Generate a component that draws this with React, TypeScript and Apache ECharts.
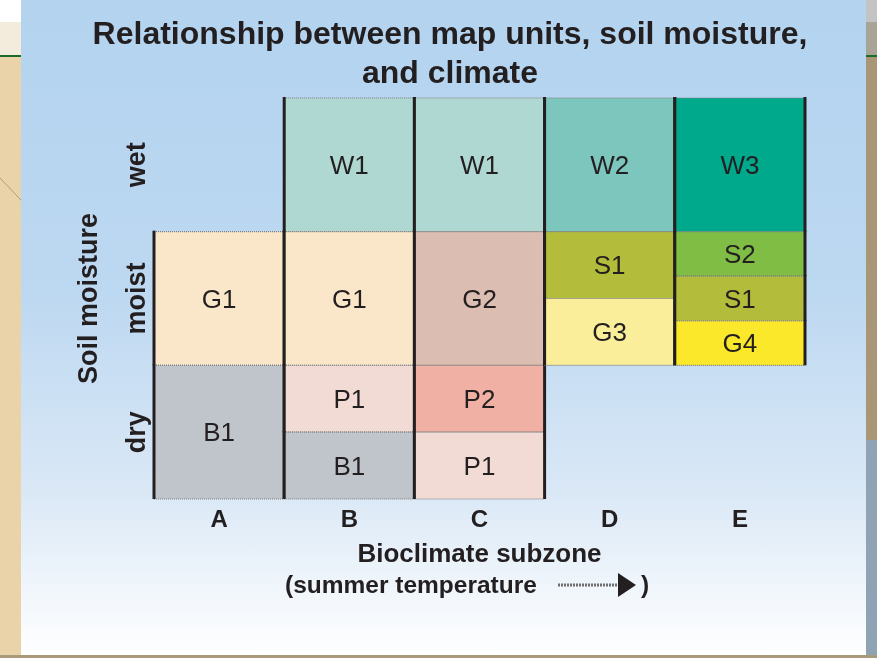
import React, { useEffect, useRef } from "react";
import * as echarts from "echarts";

// Bioclimate subzones (x categories) and soil moisture classes (y categories, bottom to top)
const zones = ["A", "B", "C", "D", "E"];
const moistureClasses = ["dry", "moist", "wet"];

// Map units: zone index, lower and upper bound in moisture-class units (dry 0-1, moist 1-2, wet 2-3)
const unitCodes = ["G1", "B1", "W1", "G1", "P1", "B1", "W1", "G2", "P2", "P1", "W2", "S1", "G3", "W3", "S2", "S1", "G4"];
const unitZone = [0, 0, 1, 1, 1, 1, 2, 2, 2, 2, 3, 3, 3, 4, 4, 4, 4];
const unitFrom = [1, 0, 2, 1, 0.5, 0, 2, 1, 0.5, 0, 2, 1.5, 1, 2, 1.667, 1.333, 1];
const unitTo = [2, 1, 3, 2, 1, 0.5, 3, 2, 1, 0.5, 3, 2, 1.5, 3, 2, 1.667, 1.333];

const unitColors: Record<string, string> = {
  W1: "#afd8d2",
  W2: "#7dc6bd",
  W3: "#00a88c",
  G1: "#fae6c8",
  G2: "#dbbdb1",
  G3: "#fbee9a",
  G4: "#fce82a",
  S1: "#b3bd3b",
  S2: "#7fbd45",
  P1: "#f2dbd4",
  P2: "#f0b0a3",
  B1: "#c0c4cb",
};

const TEXT = "#231f20";
const FONT = "Liberation Sans";

export default function App() {
  const ref = useRef<HTMLDivElement>(null);

  useEffect(() => {
    if (!ref.current) return;
    const chart = echarts.init(ref.current, null, { renderer: "svg" });

    const data = unitCodes.map((c, i) => [unitZone[i], unitFrom[i], unitTo[i]]);

    chart.setOption({
      animation: false,
      backgroundColor: "transparent",
      graphic: [
        // background panel and side strips
        { type: "rect", z: -10, shape: { x: 0, y: 0, width: 21, height: 22 }, style: { fill: "#ffffff" } },
        { type: "rect", z: -10, shape: { x: 0, y: 22, width: 21, height: 33 }, style: { fill: "#f3ebdc" } },
        { type: "rect", z: -10, shape: { x: 0, y: 55, width: 21, height: 2 }, style: { fill: "#1a6b2a" } },
        { type: "rect", z: -10, shape: { x: 0, y: 57, width: 21, height: 601 }, style: { fill: "#ebd3a9" } },
        { type: "line", z: -9, shape: { x1: 0, y1: 178, x2: 21, y2: 200 }, style: { stroke: "#b09a7a", lineWidth: 1 } },
        { type: "rect", z: -10, shape: { x: 866, y: 0, width: 11, height: 22 }, style: { fill: "#c3c3c3" } },
        { type: "rect", z: -10, shape: { x: 866, y: 22, width: 11, height: 33 }, style: { fill: "#a9a498" } },
        { type: "rect", z: -10, shape: { x: 866, y: 55, width: 11, height: 2 }, style: { fill: "#1a6b2a" } },
        { type: "rect", z: -10, shape: { x: 866, y: 57, width: 11, height: 601 }, style: { fill: "#a89677" } },
        { type: "rect", z: -10, shape: { x: 866, y: 440, width: 11, height: 218 }, style: { fill: "#8fa3b5" } },
        { type: "rect", z: -10, shape: { x: 0, y: 655, width: 877, height: 3 }, style: { fill: "#a89a7a" } },
        {
          type: "rect",
          z: -10,
          shape: { x: 21, y: 0, width: 845, height: 655 },
          style: {
            fill: new echarts.graphic.LinearGradient(0, 0, 0, 1, [
              { offset: 0, color: "#b3d3ef" },
              { offset: 0.45, color: "#bdd8f1" },
              { offset: 0.75, color: "#dae8f6" },
              { offset: 1, color: "#ffffff" },
            ]),
          },
        },
        // title
        {
          type: "text",
          x: 450,
          y: 13,
          style: {
            text: "Relationship between map units, soil moisture,\nand climate",
            font: `bold 32px ${FONT}`,
            fill: TEXT,
            align: "center",
            verticalAlign: "top",
            lineHeight: 39,
          },
        },
        // second line of x axis title with arrow
        {
          type: "text",
          x: 285,
          y: 584,
          style: { text: "(summer temperature", font: `bold 24.5px ${FONT}`, fill: TEXT, align: "left", verticalAlign: "middle" },
        },
        { type: "line", shape: { x1: 558, y1: 585, x2: 620, y2: 585 }, style: { stroke: "#6e6e6e", lineWidth: 3, lineDash: [2, 1] } },
        { type: "polygon", shape: { points: [[618, 573], [636, 585], [618, 597]] }, style: { fill: TEXT } },
        {
          type: "text",
          x: 641,
          y: 584,
          style: { text: ")", font: `bold 24.5px ${FONT}`, fill: TEXT, align: "left", verticalAlign: "middle" },
        },
      ],
      grid: { left: 154, right: 72, top: 98, bottom: 159 },
      xAxis: {
        type: "category",
        data: zones,
        boundaryGap: true,
        axisLine: { show: false },
        axisTick: { show: false },
        splitLine: { show: false },
        axisLabel: { color: TEXT, fontWeight: "bold", fontSize: 24, fontFamily: FONT, margin: 7 },
        name: "Bioclimate subzone",
        nameLocation: "middle",
        nameGap: 41,
        nameTextStyle: { color: TEXT, fontWeight: "bold", fontSize: 26, fontFamily: FONT },
      },
      yAxis: [
        { type: "value", min: 0, max: 3, show: false },
        {
          type: "category",
          data: moistureClasses,
          boundaryGap: true,
          position: "left",
          axisLine: { show: false },
          axisTick: { show: false },
          splitLine: { show: false },
          axisLabel: { color: TEXT, fontWeight: "bold", fontSize: 27, fontFamily: FONT, rotate: 90, margin: 5 },
          name: "Soil moisture",
          nameLocation: "middle",
          nameRotate: 90,
          nameGap: 53,
          nameTextStyle: { color: TEXT, fontWeight: "bold", fontSize: 27, fontFamily: FONT },
        },
      ],
      series: [
        {
          type: "custom",
          xAxisIndex: 0,
          yAxisIndex: 0,
          data,
          renderItem: (params: any, api: any) => {
            const zone = api.value(0);
            const from = api.value(1);
            const to = api.value(2);
            const code = unitCodes[params.dataIndex];
            const bottomPt = api.coord([zone, from]);
            const topPt = api.coord([zone, to]);
            const w = api.size([1, 0])[0];
            const x0 = bottomPt[0] - w / 2;
            const x1 = bottomPt[0] + w / 2;
            const yTop = topPt[1];
            const yBot = bottomPt[1];
            return {
              type: "group",
              children: [
                { type: "rect", shape: { x: x0, y: yTop, width: w, height: yBot - yTop }, style: { fill: unitColors[code] } },
                { type: "line", shape: { x1: x0, y1: yTop, x2: x1, y2: yTop }, style: { stroke: "#7d7d7d", lineWidth: 1.2, lineDash: [1, 1] } },
                { type: "line", shape: { x1: x0, y1: yBot, x2: x1, y2: yBot }, style: { stroke: "#7d7d7d", lineWidth: 1.2, lineDash: [1, 1] } },
                { type: "line", shape: { x1: x0, y1: yTop - 1, x2: x0, y2: yBot }, style: { stroke: TEXT, lineWidth: 3 } },
                { type: "line", shape: { x1: x1, y1: yTop - 1, x2: x1, y2: yBot }, style: { stroke: TEXT, lineWidth: 3 } },
                {
                  type: "text",
                  style: {
                    text: code,
                    x: bottomPt[0],
                    y: (yTop + yBot) / 2,
                    align: "center",
                    verticalAlign: "middle",
                    font: `26px ${FONT}`,
                    fill: TEXT,
                  },
                },
              ],
            };
          },
        },
      ],
    });

    return () => chart.dispose();
  }, []);

  return (
    <div
      ref={ref}
      style={{ position: "fixed", left: 0, top: 0, width: 877, height: 658 }}
    />
  );
}
